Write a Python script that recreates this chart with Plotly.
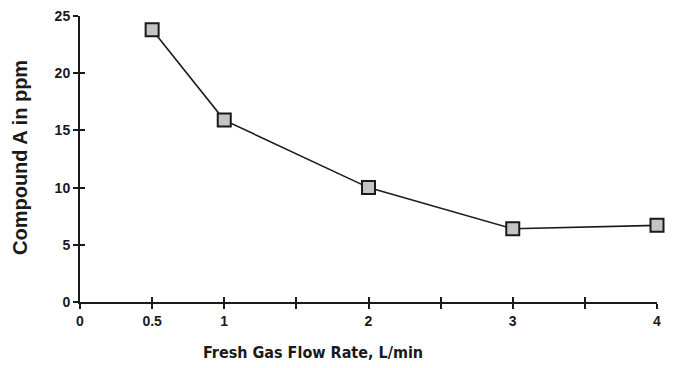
import plotly.graph_objects as go

flow_rate = [0.5, 1, 2, 3, 4]
compound_a = [23.8, 15.9, 10.0, 6.4, 6.7]
x_tick_vals = [0, 0.5, 1, 1.5, 2, 2.5, 3, 3.5, 4]
x_tick_text = ["0", "0.5", "1", "", "2", "", "3", "", "4"]
y_tick_vals = [0, 5, 10, 15, 20, 25]
x_title = "Fresh Gas Flow Rate, L/min"
y_title = "Compound A in ppm"

INK = "#1a1a1a"
fig = go.Figure()
fig.add_trace(go.Scatter(
    x=flow_rate, y=compound_a, mode="lines+markers",
    line=dict(color=INK, width=1.6),
    marker=dict(symbol="square", size=13, color="#c4c4c4",
                line=dict(color=INK, width=2)),
    cliponaxis=False, showlegend=False,
))
fig.add_trace(go.Scatter(x=[0, 4], y=[0, 25], xaxis="x2", yaxis="y2",
                         mode="markers", marker=dict(opacity=0),
                         showlegend=False, hoverinfo="skip"))

tick_font = dict(family="Liberation Sans, Arial, sans-serif", size=14, color=INK, weight="bold")
common = dict(showgrid=False, zeroline=False, automargin=False, tickwidth=1.5, tickcolor=INK, ticklen=5)
# page has an 8px body margin, so the figure is 8px smaller and margins shifted
fig.update_layout(
    width=679, height=360,
    margin=dict(l=72, r=30, t=8, b=66),
    paper_bgcolor="white", plot_bgcolor="white",
    font=dict(family="Liberation Sans, Arial, sans-serif", color=INK),
    xaxis=dict(range=[0, 4], tickvals=x_tick_vals, ticktext=x_tick_text,
               showline=True, linecolor=INK, linewidth=2, ticks="outside",
               tickfont=tick_font, ticklabeloverflow="allow", **common),
    yaxis=dict(range=[0, 25], tickvals=y_tick_vals,
               showline=True, linecolor=INK, linewidth=2, ticks="outside",
               tickfont=tick_font, ticklabeloverflow="allow", **common),
    xaxis2=dict(range=[0, 4], overlaying="x", tickvals=x_tick_vals, showticklabels=False,
                ticks="inside", side="bottom", **common),
    yaxis2=dict(range=[0, 25], overlaying="y", tickvals=y_tick_vals, showticklabels=False,
                ticks="inside", side="left", **common),
    annotations=[
        dict(text="<b>" + x_title + "</b>", xref="paper", yref="paper",
             x=(313 - 80) / 577, y=-(352 - 302) / 286, showarrow=False,
             xanchor="center", yanchor="middle",
             font=dict(family="DejaVu Sans Condensed, Liberation Sans Narrow, Arial Narrow, sans-serif",
                       size=16, color=INK)),
        dict(text="<b>" + y_title + "</b>", xref="paper", yref="paper",
             x=-(80 - 20) / 577, y=(302 - 158) / 286, showarrow=False, textangle=-90,
             xanchor="center", yanchor="middle",
             font=dict(family="Liberation Sans, Arial, sans-serif", size=20, color=INK)),
    ],
)
fig.write_html("out.html")
